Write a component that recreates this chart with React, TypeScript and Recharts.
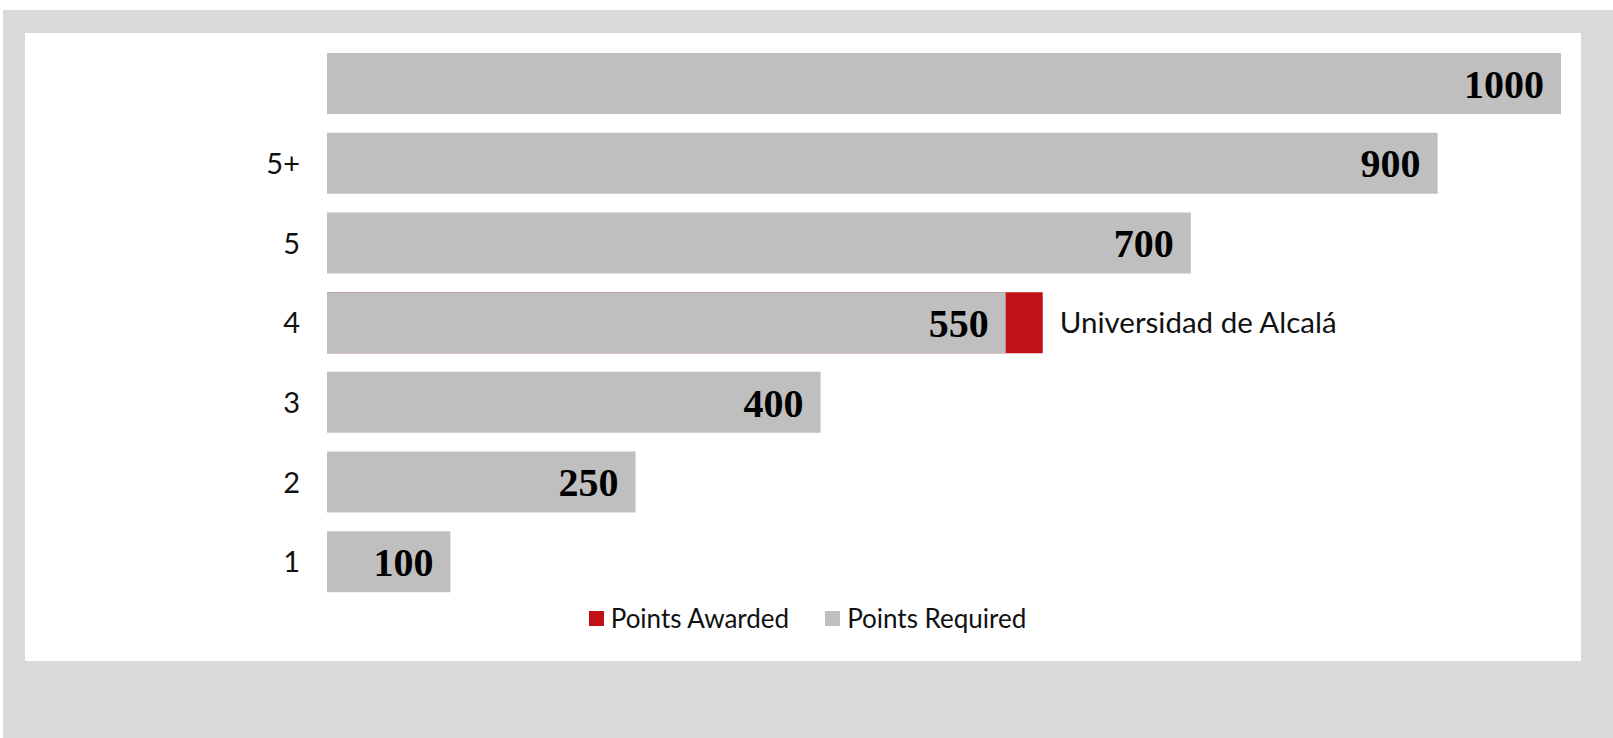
import React from "react";
import { BarChart, Bar, XAxis, YAxis, Legend, LabelList } from "recharts";

const levels = ["", "5+", "5", "4", "3", "2", "1"];
const pointsRequired = [1000, 900, 700, 550, 400, 250, 100];
const pointsAwarded = [null, null, null, 580, null, null, null];
const awardedNames = ["", "", "", "Universidad de Alcalá", "", "", ""];

const data = levels.map((level, i) => ({
  level,
  required: pointsRequired[i],
  awarded: pointsAwarded[i],
  who: awardedNames[i],
}));

const GREY = "#bfbfbf";
const RED = "#c01216";
const SANS = "Lato, 'Open Sans', sans-serif";

function LegendBox({ payload }: any) {
  return (
    <div
      style={{
        position: "relative",
        top: 1,
        display: "flex",
        justifyContent: "center",
        paddingLeft: 29,
        height: 30,
        alignItems: "center",
        fontFamily: SANS,
        fontSize: 26,
        color: "#111",
      }}
    >
      {(payload || []).map((p: any, i: number) => (
        <div key={i} style={{ display: "flex", alignItems: "center", marginRight: i === 0 ? 36 : 0 }}>
          <span style={{ display: "inline-block", width: 15, height: 15, background: p.color, marginRight: 7 }} />
          <span>{p.value}</span>
        </div>
      ))}
    </div>
  );
}

export default function App() {
  return (
    <div style={{ position: "absolute", left: 3, top: 10, width: 1610, height: 728, background: "#d9d9d9" }}>
      <div style={{ position: "absolute", left: 22, top: 23, width: 1556, height: 628, background: "#fff" }}>
        <BarChart
          width={1556}
          height={628}
          data={data}
          layout="vertical"
          margin={{ top: 11, right: 20, left: 0, bottom: 29 }}
          barSize={61}
          barGap={-61}
        >
          <XAxis type="number" domain={[0, 1000]} hide />
          <YAxis
            type="category"
            dataKey="level"
            width={302}
            axisLine={false}
            tickLine={false}
            tickMargin={21}
            tick={{ fontFamily: SANS, fontSize: 29, fill: "#111" }}
          />
          <Legend verticalAlign="bottom" content={<LegendBox />} />
          <Bar dataKey="awarded" name="Points Awarded" fill={RED} isAnimationActive={false}>
            <LabelList
              dataKey="who"
              position="right"
              offset={17}
              style={{ fontFamily: SANS, fontSize: 29.5, fill: "#111" }}
            />
          </Bar>
          <Bar dataKey="required" name="Points Required" fill={GREY} isAnimationActive={false}>
            <LabelList
              dataKey="required"
              position="insideRight"
              offset={17}
              style={{ fontFamily: "'Liberation Serif', serif", fontWeight: 700, fontSize: 40, fill: "#000" }}
            />
          </Bar>
        </BarChart>
      </div>
    </div>
  );
}
